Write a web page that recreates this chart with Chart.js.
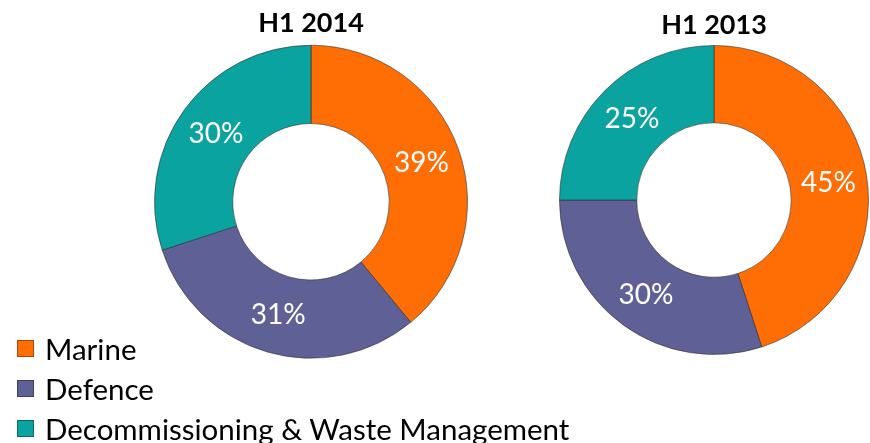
<!DOCTYPE html>
<html>
<head>
<meta charset="utf-8">
<script src="https://cdn.jsdelivr.net/npm/chart.js@4"></script>
<style>
  body { margin: 0; background: #fff; width: 870px; height: 443px; position: relative; overflow: hidden; font-family: Lato, 'Open Sans', sans-serif; }
  canvas { position: absolute; top: 0; }
  #chart-2014 { left: 154px; }
  #chart-2013 { left: 559px; }
  #legend { position: absolute; left: 17px; top: 328px; list-style: none; margin: 0; padding: 0; }
  #legend li { display: flex; align-items: center; height: 40px; font-size: 29.5px; color: #000; white-space: nowrap; }
  #legend .box { width: 17px; height: 17px; margin-right: 11px; box-sizing: border-box; border: 1px solid rgba(0,0,0,0.35); }
</style>
</head>
<body>
<canvas id="chart-2014" width="314" height="359"></canvas>
<canvas id="chart-2013" width="310" height="355"></canvas>
<ul id="legend"></ul>
<script>
// Data
const segments = ['Marine', 'Defence', 'Decommissioning & Waste Management'];
const h1_2014 = [39, 31, 30];
const h1_2013 = [45, 30, 25];
const segmentColors = ['#FF6D05', '#5F6196', '#0BA39F'];

// White percentage labels in the middle of each ring slice
const sliceLabels = {
    id: 'sliceLabels',
    afterDatasetsDraw(chart) {
        const ctx = chart.ctx;
        const meta = chart.getDatasetMeta(0);
        const values = chart.data.datasets[0].data;
        ctx.save();
        ctx.fillStyle = '#fff';
        ctx.font = '28px Lato';
        ctx.textAlign = 'center';
        ctx.textBaseline = 'middle';
        meta.data.forEach((arc, i) => {
            const pos = arc.tooltipPosition();
            ctx.fillText(values[i] + '%', pos.x, pos.y + 1);
        });
        ctx.restore();
    }
};

function makeDoughnut(canvasId, title, values, titleTop, chartTop) {
    const ctx = document.getElementById(canvasId).getContext('2d');
    return new Chart(ctx, {
        type: 'doughnut',
        data: {
            labels: segments,
            datasets: [{
                data: values,
                backgroundColor: segmentColors,
                borderColor: 'rgba(40, 40, 40, 0.55)',
                borderWidth: 1
            }]
        },
        options: {
            responsive: false,
            animation: false,
            devicePixelRatio: 1,
            cutout: '50%',
            layout: { padding: 0 },
            plugins: {
                legend: { display: false },
                tooltip: { enabled: false },
                title: {
                    display: true,
                    text: title,
                    color: '#000',
                    font: { family: 'Lato', size: 27, weight: 'bold', lineHeight: 1.2 },
                    padding: { top: titleTop, bottom: chartTop - titleTop - 32.4 }
                }
            }
        },
        plugins: [sliceLabels]
    });
}

makeDoughnut('chart-2014', 'H1 2014', h1_2014, 7.3, 44.5);
makeDoughnut('chart-2013', 'H1 2013', h1_2013, 8.8, 45);

// Shared legend
const legend = document.getElementById('legend');
segments.forEach((name, i) => {
    const li = document.createElement('li');
    const box = document.createElement('span');
    box.className = 'box';
    box.style.background = segmentColors[i];
    const text = document.createElement('span');
    text.textContent = name;
    li.appendChild(box);
    li.appendChild(text);
    legend.appendChild(li);
});
</script>
</body>
</html>
